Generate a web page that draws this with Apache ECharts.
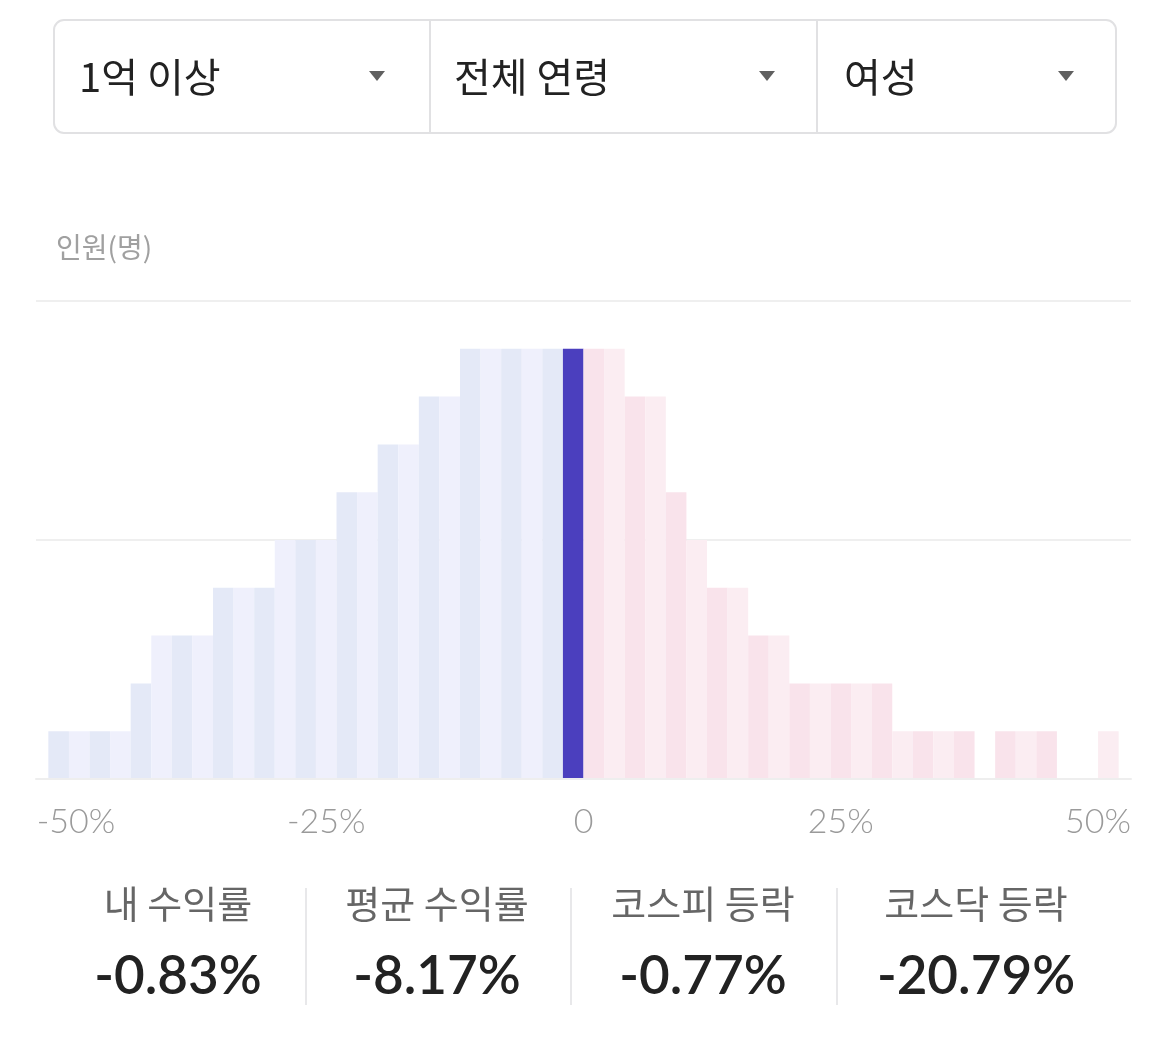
<!DOCTYPE html>
<html>
<head>
<meta charset="utf-8">
<script src="https://cdn.jsdelivr.net/npm/echarts@6/dist/echarts.min.js"></script>
<style>
html,body{margin:0;padding:0;background:#fff;}
#chart{width:1170px;height:1044px;}
</style>
</head>
<body>
<div id="chart"></div>
<script>
// ---- data ----
var filterLabels = ['1억 이상', '전체 연령', '여성'];
var binStarts = [-52,-50,-48,-46,-44,-42,-40,-38,-36,-34,-32,-30,-28,-26,-24,-22,-20,-18,-16,-14,-12,-10,-8,-6,-4,-2,
                 0,2,4,6,8,10,12,14,16,18,20,22,24,26,28,30,32,34,36,38,40,42,44,46,48,50];
var binWidth = 2;
var counts = [1,1,1,1,2,3,3,3,4,4,4,5,5,5,6,6,7,7,8,8,9,9,9,9,9,9,
              9,9,8,8,6,5,4,4,3,3,2,2,2,2,2,1,1,1,1,0,1,1,1,0,0,1];
var xTickValues = [-50, -25, 0, 25, 50];
var yAxisName = '인원(명)';
var myReturn = -0.83;
var statLabels = ['내 수익률', '평균 수익률', '코스피 등락', '코스닥 등락'];
var statValues = ['-0.83%', '-8.17%', '-0.77%', '-20.79%'];

var FONT = 'Lato, "Noto Sans CJK KR", "Noto Sans", sans-serif';
var KFONT = '"Noto Sans CJK KR", Lato, sans-serif';

var barData = binStarts.map(function (s, i) { return [s, s + binWidth, counts[i]]; });

function barColor(lo, hi, idx) {
  if (myReturn >= lo && myReturn < hi) return '#4b3fbe';
  var even = idx % 2 === 0;
  if (hi <= 0) return even ? '#e4e9f7' : '#eff0fc';
  return even ? '#f9e3eb' : '#fbedf2';
}

// ---- UI graphics (filter box + stats) ----
var graphics = [];
graphics.push({ type: 'rect', shape: { x: 54, y: 20, width: 1062, height: 113, r: 10 },
  style: { fill: '#fff', stroke: '#e1e1e3', lineWidth: 2 } });
[430, 817].forEach(function (x) {
  graphics.push({ type: 'line', shape: { x1: x, y1: 21, x2: x, y2: 132 }, style: { stroke: '#e1e1e3', lineWidth: 2 } });
});
var filterTextX = [79, 454, 844];
var arrowX = [377, 767, 1066];
filterLabels.forEach(function (t, i) {
  graphics.push({ type: 'text', x: filterTextX[i], y: 77,
    style: { text: t, font: '400 40px ' + KFONT, fill: '#222', verticalAlign: 'middle', align: 'left' } });
  var ax = arrowX[i];
  graphics.push({ type: 'polygon', shape: { points: [[ax - 8, 71], [ax + 8, 71], [ax, 81]] }, style: { fill: '#606060' } });
});
graphics.push({ type: 'text', x: 56, y: 247,
  style: { text: yAxisName, font: '400 28px ' + KFONT, fill: '#a0a0a0', verticalAlign: 'middle', align: 'left' } });

var statCenters = [178, 437, 703, 976];
statLabels.forEach(function (t, i) {
  graphics.push({ type: 'text', x: statCenters[i], y: 904,
    style: { text: t, font: '400 38px ' + KFONT, fill: '#666', align: 'center', verticalAlign: 'middle' } });
  graphics.push({ type: 'text', x: statCenters[i], y: 977,
    style: { text: statValues[i], font: '600 53px ' + FONT, fill: '#222', align: 'center', verticalAlign: 'middle' } });
});
[306, 571, 837].forEach(function (x) {
  graphics.push({ type: 'line', shape: { x1: x, y1: 888, x2: x, y2: 1005 }, style: { stroke: '#e8e8ea', lineWidth: 2 } });
});

var chart = echarts.init(document.getElementById('chart'));
chart.setOption({
  animation: false,
  backgroundColor: '#fff',
  grid: { left: 36, right: 39, top: 301, bottom: 265 },
  xAxis: {
    type: 'value', min: -53.2, max: 53.2,
    axisLine: { show: true, lineStyle: { color: '#eeeeee', width: 2 } },
    axisTick: { show: false },
    splitLine: { show: false },
    axisLabel: {
      customValues: xTickValues,
      margin: 26,
      color: '#9a9a9a', fontSize: 34, fontWeight: 300, fontFamily: FONT,
      formatter: function (v) { return v === -50 ? '{l|' + v + '%}' : v === 0 ? '0' : v + '%'; },
      rich: { l: { padding: [0, 0, 0, 14], color: '#9a9a9a', fontSize: 34, fontWeight: 300, fontFamily: FONT } }
    }
  },
  yAxis: {
    type: 'value', min: 0, max: 10, interval: 5,
    axisLine: { show: false }, axisTick: { show: false }, axisLabel: { show: false },
    splitLine: { show: true, lineStyle: { color: '#efefef', width: 2 } }
  },
  series: [{
    type: 'custom',
    data: barData,
    encode: { x: [0, 1], y: 2 },
    renderItem: function (params, api) {
      var lo = api.value(0), hi = api.value(1), v = api.value(2);
      if (!v) return null;
      var p0 = api.coord([lo, v]);
      var p1 = api.coord([hi, 0]);
      return { type: 'rect',
        shape: { x: p0[0], y: p0[1], width: p1[0] - p0[0], height: p1[1] - p0[1] - 1 },
        style: { fill: barColor(lo, hi, params.dataIndex) } };
    }
  }],
  graphic: graphics
});
</script>
</body>
</html>
